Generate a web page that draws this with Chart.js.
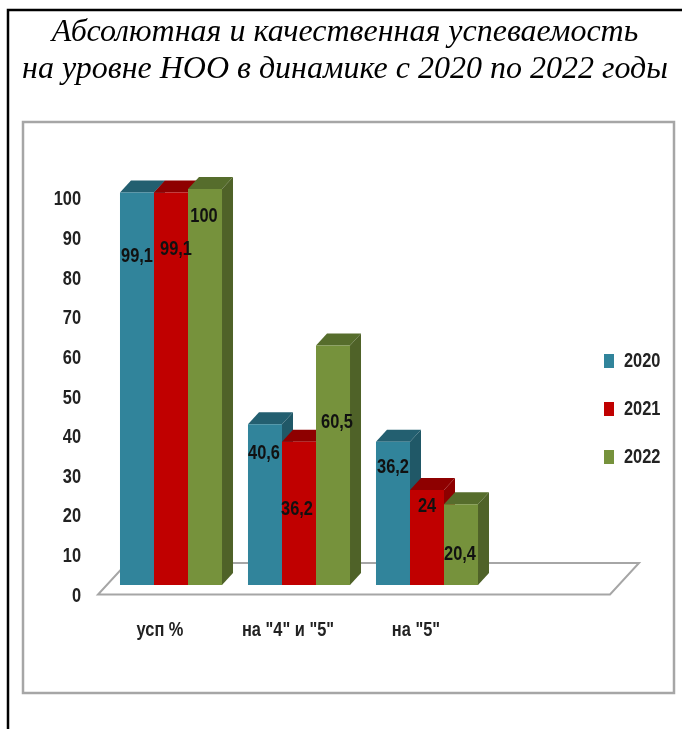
<!DOCTYPE html>
<html>
<head>
<meta charset="utf-8">
<title>Успеваемость</title>
<script src="https://cdn.jsdelivr.net/npm/chart.js@4"></script>
<style>
  html, body { margin: 0; padding: 0; background: #fff; }
  #wrap { width: 682px; height: 729px; position: relative; overflow: hidden; }
</style>
</head>
<body>
<div id="wrap"><canvas id="chart" width="682" height="729"></canvas></div>
<script>
const titleLines = ['Абсолютная и качественная успеваемость', 'на уровне НОО в динамике с 2020 по 2022 годы'];
// fourth slot is empty in the picture, the floor runs under it
const categories = ['усп %', 'на "4" и "5"', 'на "5"', ''];
const years = ['2020', '2021', '2022'];
const values2020 = [99.1, 40.6, 36.2, null];
const values2021 = [99.1, 36.2, 24, null];
const values2022 = [100, 60.5, 20.4, null];

// colours: front, top, side
const colors = [
    ['#31849b', '#235f70', '#205867'],
    ['#c00000', '#8e0000', '#8e0000'],
    ['#76923c', '#566d2c', '#4f6228']
];
// where each value label sits relative to the top centre of its bar, px
const labelDrop = [[64, 29, 26], [57, 68, 17], [28, 77, 50]];
const labelShift = [[0, -1, 0], [5, -2, 0], [-1, 4, -1]];

const depthX = 11;
const depthY = 12;
const textFont = '"Liberation Sans", sans-serif';
const textSqueeze = 0.82;

const ctxMain = document.getElementById('chart').getContext('2d');

// no narrow font is installed, so squeeze the sans text the way a narrow cut would look
const plainFillText = ctxMain.fillText;
ctxMain.fillText = function(text, x, y, maxWidth) {
    if (this.font.indexOf('Liberation Sans') === -1) {
        return maxWidth === undefined ? plainFillText.call(this, text, x, y) : plainFillText.call(this, text, x, y, maxWidth);
    }
    plainFillText.call(this, text, x, y, this.measureText(text).width * textSqueeze);
};

function poly(ctx, pts, fill) {
    ctx.beginPath();
    pts.forEach((p, i) => i ? ctx.lineTo(p[0], p[1]) : ctx.moveTo(p[0], p[1]));
    ctx.closePath();
    ctx.fillStyle = fill;
    ctx.fill();
}

// page frame, chart frame and the 3d floor
const backdrop = {
    id: 'backdrop',
    beforeDatasetsDraw(chart) {
        const ctx = chart.ctx;
        const a = chart.chartArea;
        ctx.save();
        ctx.strokeStyle = '#000';
        ctx.lineWidth = 2.5;
        ctx.beginPath();
        ctx.moveTo(682, 10);
        ctx.lineTo(8, 10);
        ctx.lineTo(8, 729);
        ctx.stroke();

        ctx.strokeStyle = '#a6a6a6';
        ctx.lineWidth = 2.5;
        ctx.strokeRect(23, 122, 651, 571);

        const yBase = chart.scales.y.getPixelForValue(0);
        ctx.lineWidth = 2;
        ctx.beginPath();
        ctx.moveTo(a.left - 9, yBase + 9.5);
        ctx.lineTo(a.right - 9, yBase + 9.5);
        ctx.lineTo(a.right + 20, yBase - 22);
        ctx.lineTo(a.left + 20, yBase - 22);
        ctx.closePath();
        ctx.stroke();
        ctx.restore();
    },
    // datasets go left to right so each bar covers the side of the one before it
    beforeDatasetDraw() {
        return false;
    },
    afterDatasetsDraw(chart) {
        const ctx = chart.ctx;
        chart.data.datasets.forEach((ds, d) => {
            const meta = chart.getDatasetMeta(d);
            meta.data.forEach((bar, i) => {
                if (ds.data[i] === null) return;
                const l = bar.x - bar.width / 2;
                const r = bar.x + bar.width / 2;
                poly(ctx, [[l, bar.y], [r, bar.y], [r + depthX, bar.y - depthY], [l + depthX, bar.y - depthY]], colors[d][1]);
                poly(ctx, [[r, bar.y], [r + depthX, bar.y - depthY], [r + depthX, bar.base - depthY], [r, bar.base]], colors[d][2]);
            });
            meta.controller.draw();
        });
        ctx.save();
        ctx.font = 'bold 20px ' + textFont;
        ctx.fillStyle = '#111';
        ctx.textAlign = 'center';
        ctx.textBaseline = 'middle';
        chart.data.datasets.forEach((ds, d) => {
            chart.getDatasetMeta(d).data.forEach((bar, i) => {
                if (ds.data[i] === null) return;
                ctx.fillText(String(ds.data[i]).replace('.', ','), bar.x + labelShift[d][i], bar.y + labelDrop[d][i]);
            });
        });
        ctx.restore();
    },
    // legend stays out of the plot, it sits over the empty fourth slot
    afterLayout(chart) {
        const lg = chart.legend;
        lg.left = 576;
        lg.right = lg.left + lg.width;
        lg.top = 323;
        lg.bottom = lg.top + lg.height;
    }
};

new Chart(ctxMain, {
    type: 'bar',
    data: {
        labels: categories,
        datasets: [
            { label: years[0], data: values2020, backgroundColor: colors[0][0] },
            { label: years[1], data: values2021, backgroundColor: colors[1][0] },
            { label: years[2], data: values2022, backgroundColor: colors[2][0] }
        ]
    },
    options: {
        responsive: false,
        animation: false,
        layout: { padding: { left: 8, right: 0, top: 0, bottom: 0 } },
        datasets: { bar: { categoryPercentage: 0.797, barPercentage: 1 } },
        plugins: {
            tooltip: { enabled: false },
            title: {
                display: true,
                text: titleLines,
                color: '#000',
                font: { family: '"Liberation Serif", serif', style: 'italic', weight: 'normal', size: 32, lineHeight: 1.156 },
                padding: { top: 14, bottom: 101 }
            },
            legend: {
                position: 'chartArea',
                align: 'start',
                labels: {
                    boxWidth: 10,
                    boxHeight: 14,
                    padding: 28,
                    color: '#222',
                    font: { family: textFont, size: 20, weight: 'bold' }
                }
            }
        },
        scales: {
            x: {
                afterFit: s => { s.height = 144; },
                grid: { display: false },
                border: { display: false },
                ticks: { color: '#222', font: { family: textFont, size: 20, weight: 'bold' }, padding: 25, labelOffset: -11, maxRotation: 0, autoSkip: false }
            },
            y: {
                min: 0,
                max: 100,
                afterFit: s => { s.width = 99; },
                grid: { display: false },
                border: { display: false },
                ticks: { stepSize: 10, color: '#222', font: { family: textFont, size: 20, weight: 'bold' }, padding: 18, labelOffset: 11 }
            },
            // keeps the plot's right edge clear of the canvas edge, draws nothing
            spacer: {
                type: 'linear',
                position: 'right',
                afterFit: s => { s.width = 63; },
                grid: { display: false },
                border: { display: false },
                ticks: { display: false }
            }
        }
    },
    plugins: [backdrop]
});
</script>
</body>
</html>
